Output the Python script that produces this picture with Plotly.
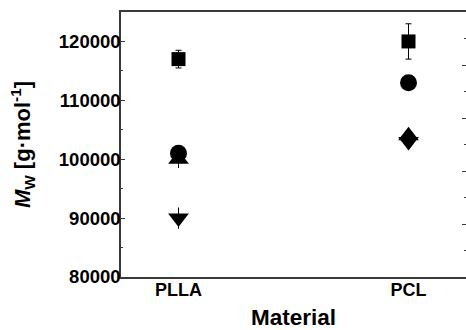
import plotly.graph_objects as go

# Weight-average molar mass for each material, grouped by marker series
materials = ["PLLA", "PCL"]

square_mw = [117000, 120000]
square_err = [1500, 3000]

circle_mw = [101000, 113000]
circle_err = [0, 0]

tri_up_mw = [100000, 104000]
tri_up_err = [1500, 0]

tri_down_mw = [90000, 103000]
tri_down_err = [1800, 0]

y_tickvals = [80000, 90000, 100000, 110000, 120000]

FONT = "Liberation Sans, Arial, sans-serif"
AXIS_COLOR = "#3a3a3a"

fig = go.Figure()


def add_series(values, errors, symbol, size, cap):
    fig.add_trace(go.Scatter(
        x=materials,
        y=values,
        mode="markers",
        marker=dict(symbol=symbol, size=size, color="black",
                    line=dict(width=0)),
        error_y=dict(type="data", array=errors, visible=True,
                     color="black", thickness=1, width=cap),
        showlegend=False,
        cliponaxis=False,
    ))


add_series(tri_down_mw, tri_down_err, "triangle-down", 18, 0)
add_series(tri_up_mw, tri_up_err, "triangle-up", 18, 0)
add_series(circle_mw, circle_err, "circle", 17, 3)
add_series(square_mw, square_err, "square", 14, 3)

fig.update_layout(
    width=466,
    height=330,
    margin=dict(l=121, r=0, t=12, b=53),
    plot_bgcolor="white",
    paper_bgcolor="white",
    font=dict(family=FONT, color="black", size=18, weight="bold"),
    xaxis=dict(
        type="category",
        range=[-0.25, 1.25],
        showline=True,
        linecolor=AXIS_COLOR,
        linewidth=1.5,
        mirror=True,
        ticks="",
        ticklabelstandoff=-4,
        showgrid=False,
        zeroline=False,
        tickfont=dict(size=18, family=FONT, weight="bold"),
        title=dict(text="Material", font=dict(size=22.5, family=FONT, weight="bold"),
                   standoff=14),
    ),
    yaxis=dict(
        range=[80000, 125000],
        tickvals=y_tickvals,
        ticktext=[str(v) for v in y_tickvals],
        ticks="inside",
        ticklen=4,
        tickcolor=AXIS_COLOR,
        ticklabelstandoff=-5,
        minor=dict(dtick=5000, tick0=0, ticks="inside", ticklen=2.5,
                   tickcolor=AXIS_COLOR),
        showline=True,
        linecolor=AXIS_COLOR,
        linewidth=1.5,
        showgrid=False,
        zeroline=False,
        tickfont=dict(size=18.5, family=FONT, weight="bold"),
        title=dict(text="<i>M</i><sub>W</sub> [g·mol<sup>-1</sup>]",
                   font=dict(size=22, family=FONT, weight="bold"),
                   standoff=22),
    ),
    yaxis2=dict(
        overlaying="y",
        side="right",
        range=[0, 1],
        dtick=0.2,
        ticks="inside",
        ticklen=4,
        tickcolor=AXIS_COLOR,
        minor=dict(dtick=0.1, ticks="inside", ticklen=2, tickcolor=AXIS_COLOR),
        showticklabels=False,
        showline=True,
        linecolor=AXIS_COLOR,
        linewidth=1.5,
        showgrid=False,
        zeroline=False,
    ),
)

# invisible trace so the right-hand axis is rendered
fig.add_trace(go.Scatter(x=[], y=[], yaxis="y2", showlegend=False))

fig.write_html("out.html")
